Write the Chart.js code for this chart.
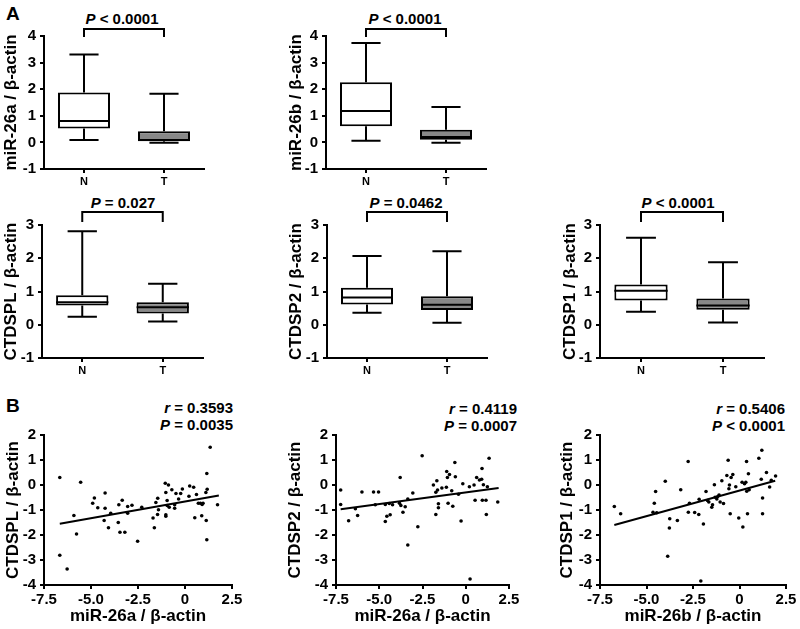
<!DOCTYPE html>
<html>
<head>
<meta charset="utf-8">
<script src="https://cdn.jsdelivr.net/npm/chart.js@4"></script>
<style>
  body { margin: 0; background: #fff; width: 800px; height: 629px; position: relative; overflow: hidden;
         font-family: "Liberation Sans", Arial, sans-serif; }
  canvas { position: absolute; }
  .lbl { position: absolute; font-weight: bold; color: #000; white-space: nowrap; line-height: 1; }
  .c { transform: translate(-50%, -50%); }
  .r { transform: translate(-100%, -50%); }
</style>
</head>
<body>
<div class="lbl" style="left:6px;top:4px;font-size:19px">A</div>
<div class="lbl" style="left:6px;top:396px;font-size:19px">B</div>

<div class="lbl c" style="left:122px;top:18px;font-size:15px"><i>P</i> &lt; 0.0001</div>
<div class="lbl c" style="left:405px;top:18px;font-size:15px"><i>P</i> &lt; 0.0001</div>
<div class="lbl c" style="left:123px;top:202px;font-size:15px"><i>P</i> = 0.027</div>
<div class="lbl c" style="left:406px;top:202px;font-size:15px"><i>P</i> = 0.0462</div>
<div class="lbl c" style="left:678px;top:202px;font-size:15px"><i>P</i> &lt; 0.0001</div>

<div class="lbl r" style="left:233px;top:407px;font-size:15px"><i>r</i> = 0.3593</div>
<div class="lbl r" style="left:233px;top:424px;font-size:15px"><i>P</i> = 0.0035</div>
<div class="lbl r" style="left:517px;top:408px;font-size:15px"><i>r</i> = 0.4119</div>
<div class="lbl r" style="left:517px;top:425px;font-size:15px"><i>P</i> = 0.0007</div>
<div class="lbl r" style="left:785px;top:408px;font-size:15px"><i>r</i> = 0.5406</div>
<div class="lbl r" style="left:785px;top:425px;font-size:15px"><i>P</i> &lt; 0.0001</div>

<canvas id="b1"></canvas>
<canvas id="b2"></canvas>
<canvas id="b3"></canvas>
<canvas id="b4"></canvas>
<canvas id="b5"></canvas>
<canvas id="s1"></canvas>
<canvas id="s2"></canvas>
<canvas id="s3"></canvas>

<script>
const groups = ['N', 'T'];

// box stats: [min, q1, median, q3, max]
const mir26aN = [0.09, 0.52, 0.80, 1.88, 3.30];
const mir26aT = [-0.01, 0.04, 0.09, 0.42, 1.83];
const mir26bN = [0.06, 0.61, 1.18, 2.26, 3.74];
const mir26bT = [-0.01, 0.10, 0.20, 0.48, 1.33];
const ctdsplN = [0.24, 0.58, 0.68, 0.89, 2.81];
const ctdsplT = [0.10, 0.34, 0.53, 0.68, 1.23];
const ctdsp2N = [0.36, 0.61, 0.82, 1.11, 2.07];
const ctdsp2T = [0.06, 0.44, 0.60, 0.86, 2.21];
const ctdsp1N = [0.39, 0.73, 1.02, 1.21, 2.62];
const ctdsp1T = [0.07, 0.45, 0.58, 0.79, 1.88];

// correlation panels
const splX = [-6.66,-5.55,-5.91,-5.77,-6.66,-6.27,-4.91,-4.82,-4.64,-4.25,-4.25,-4.30,-4.07,-3.95,-3.52,-3.34,-3.55,-3.46,-3.20,-3.05,-3.05,-2.82,-2.52,-2.30,-1.70,-1.63,-1.55,-1.45,-1.41,-1.46,-1.05,-1.02,-0.88,-1.02,-1.02,-0.95,-0.95,-0.84,-0.70,-0.55,-0.48,-0.55,-0.34,-0.14,-0.23,0.25,0.21,0.46,0.52,0.61,0.71,0.82,0.89,0.91,0.96,1.11,1.13,1.18,1.16,1.16,1.34,1.73];
const splY = [0.30,0.11,-1.22,-1.96,-2.81,-3.36,-0.73,-0.52,-0.91,-0.32,-0.93,-1.42,-1.71,-1.13,-0.79,-0.61,-1.50,-1.89,-1.89,-0.86,-1.13,-0.81,-2.25,-0.89,-1.32,-1.71,-0.70,-0.53,-0.99,-1.18,0.07,-0.30,0.00,-1.19,-1.25,-0.62,-0.82,-0.89,-0.19,-0.79,-0.34,-0.93,-0.56,-0.16,-0.34,-0.04,-0.45,-0.09,-1.31,-0.38,-0.73,-0.73,-1.23,-0.78,-0.73,-0.30,-1.42,-0.17,0.46,-2.19,1.51,-0.79];
const splFitX = [-6.66, 1.80];
const splFitY = [-1.55, -0.42];

const sp2X = [-7.23,-7.23,-6.77,-6.38,-6.25,-6.00,-5.33,-5.04,-5.23,-4.65,-4.65,-4.56,-4.37,-4.42,-4.23,-3.79,-3.83,-3.75,-3.63,-3.50,-3.35,-3.35,-3.06,-2.77,-2.52,-1.87,-1.73,-1.73,-1.67,-1.63,-1.58,-1.58,-1.38,-1.12,-1.10,-1.06,-1.02,-0.94,-0.81,-0.75,-0.63,-0.60,-0.42,-0.27,-0.17,0.21,0.25,0.48,0.54,0.63,0.79,0.92,0.94,0.96,1.02,1.17,1.19,1.25,1.35,1.85];
const sp2Y = [-0.20,-0.78,-1.43,-0.95,-1.22,-0.28,-0.28,-0.28,-0.79,-0.78,-1.46,-1.25,-1.19,-0.74,-0.79,0.30,-0.73,-0.82,-1.09,-0.87,-0.56,-2.40,-0.32,-1.67,1.17,0.00,-0.29,-1.18,0.17,-0.20,-0.75,-0.91,-0.12,-0.09,0.54,0.30,-0.73,0.42,-0.23,-0.85,0.90,0.33,-0.37,-1.44,0.05,-0.07,-3.76,0.00,-0.61,0.30,0.20,0.23,0.66,-0.61,0.01,-0.61,-1.18,-0.07,1.07,-0.68];
const sp2FitX = [-7.23, 1.90];
const sp2FitY = [-0.97, -0.12];

const sp1X = [-6.73,-6.39,-4.51,-4.58,-4.65,-4.45,-3.99,-3.75,-3.77,-3.86,-3.34,-3.16,-2.76,-2.69,-2.75,-2.41,-2.19,-2.08,-2.17,-1.94,-1.80,-1.72,-1.65,-1.49,-1.45,-1.35,-1.31,-1.22,-1.17,-1.10,-1.04,-0.95,-0.86,-0.68,-0.61,-0.57,-0.54,-0.45,-0.36,-0.50,-0.20,-0.04,0.14,0.18,0.27,0.34,0.39,0.43,0.38,0.48,0.52,1.04,1.20,1.17,1.24,1.24,1.45,1.62,1.71,1.94];
const sp1Y = [-0.86,-1.15,-0.26,-0.73,-1.09,-1.11,0.15,-1.35,-1.72,-2.85,-1.42,-0.19,0.94,-0.73,-1.09,-1.10,-1.18,-3.84,-0.57,-1.56,-0.26,-0.62,-0.68,-0.89,-0.79,0.01,-0.49,-0.56,-0.46,-0.40,-0.68,0.17,-0.74,0.38,0.99,-0.15,0.00,0.30,0.42,-1.15,-0.07,-1.32,0.11,-1.68,0.05,0.11,-0.25,-1.15,0.94,0.45,-0.19,1.07,1.39,0.23,-0.52,-1.15,0.50,-0.08,0.19,0.36];
const sp1FitX = [-6.73, 1.92];
const sp1FitY = [-1.60, 0.17];

Chart.defaults.font.family = '"Liberation Sans", Arial, sans-serif';
Chart.defaults.font.weight = 'bold';
Chart.defaults.color = '#000';

function place(id, area, yw, padT, padR, xh) {
  const c = document.getElementById(id);
  const w = area.r - area.l + yw + padR;
  const h = area.b - area.t + padT + xh;
  c.width = w;
  c.height = h;
  c.style.left = (area.l - yw) + 'px';
  c.style.top = (area.t - padT) + 'px';
  c.style.width = w + 'px';
  c.style.height = h + 'px';
  return c.getContext('2d');
}

// whiskers, medians and the bracket over the two boxes
const boxPlugin = {
  id: 'boxWhisker',
  afterDatasetsDraw(chart, args, opts) {
    const ctx = chart.ctx;
    const ys = chart.scales.y;
    const py = v => ys.getPixelForValue(v);
    ctx.save();
    ctx.strokeStyle = '#000';
    ctx.lineWidth = 2;
    chart.getDatasetMeta(0).data.forEach((bar, i) => {
      const s = opts.stats[i];
      const x = bar.x, hw = bar.width / 2, cw = bar.width * 0.28;
      ctx.beginPath();
      ctx.moveTo(x, py(s[3])); ctx.lineTo(x, py(s[4]));
      ctx.moveTo(x - cw, py(s[4])); ctx.lineTo(x + cw, py(s[4]));
      ctx.moveTo(x, py(s[1])); ctx.lineTo(x, py(s[0]));
      ctx.moveTo(x - cw, py(s[0])); ctx.lineTo(x + cw, py(s[0]));
      ctx.moveTo(x - hw, py(s[2])); ctx.lineTo(x + hw, py(s[2]));
      ctx.stroke();
    });
    const xs = chart.scales.x;
    const x1 = xs.getPixelForValue(0), x2 = xs.getPixelForValue(1);
    const top = chart.chartArea.top;
    ctx.beginPath();
    ctx.moveTo(x1, top + opts.legEnd);
    ctx.lineTo(x1, top - opts.bracket);
    ctx.lineTo(x2, top - opts.bracket);
    ctx.lineTo(x2, top + opts.legEnd);
    ctx.stroke();
    ctx.restore();
  }
};

function axisStyle() {
  return {
    grid: { drawOnChartArea: false, tickLength: 4, color: '#000', lineWidth: 2 },
    border: { color: '#000', width: 2 }
  };
}

function boxChart(id, area, yw, yMax, title, statsN, statsT, brk) {
  const padT = 16, padR = 6, xh = 22;
  const ctx = place(id, area, yw, padT, padR, xh);
  new Chart(ctx, {
    type: 'bar',
    data: {
      labels: groups,
      datasets: [{
        data: [[statsN[1], statsN[3]], [statsT[1], statsT[3]]],
        backgroundColor: ['#ffffff', '#888888'],
        borderColor: '#000',
        borderWidth: 2,
        borderSkipped: false,
        barPercentage: 0.65,
        categoryPercentage: 1
      }]
    },
    options: {
      responsive: false,
      animation: false,
      layout: { padding: { top: padT, right: padR, left: 0, bottom: 0 } },
      plugins: {
        legend: { display: false },
        tooltip: { enabled: false },
        boxWhisker: { stats: [statsN, statsT], bracket: brk[0], legEnd: brk[1] }
      },
      scales: {
        x: {
          ...axisStyle(),
          grid: { offset: false, drawOnChartArea: false, tickLength: 4, color: '#000', lineWidth: 2 },
          ticks: { font: { size: 11, weight: 'bold' }, padding: 2 },
          afterFit: s => { s.height = xh; }
        },
        y: {
          ...axisStyle(),
          min: -1, max: yMax,
          ticks: { stepSize: 1, font: { size: 15, weight: 'bold' }, padding: 4 },
          title: { display: true, text: title, font: { size: 17, weight: 'bold' }, padding: 0 },
          afterFit: s => { s.width = yw; }
        }
      }
    },
    plugins: [boxPlugin]
  });
}

function scatterChart(id, area, yw, title, xTitle, xs, ys, fitX, fitY) {
  const padT = 12, padR = 14, xh = 42;
  const ctx = place(id, area, yw, padT, padR, xh);
  new Chart(ctx, {
    type: 'scatter',
    data: {
      datasets: [{
        data: xs.map((x, i) => ({ x: x, y: ys[i] })),
        pointRadius: 1.8,
        backgroundColor: '#000',
        borderWidth: 0
      }, {
        type: 'line',
        data: fitX.map((x, i) => ({ x: x, y: fitY[i] })),
        borderColor: '#000',
        borderWidth: 2,
        pointRadius: 0,
        fill: false
      }]
    },
    options: {
      responsive: false,
      animation: false,
      layout: { padding: { top: padT, right: padR, left: 0, bottom: 0 } },
      plugins: { legend: { display: false }, tooltip: { enabled: false } },
      scales: {
        x: {
          ...axisStyle(),
          type: 'linear', min: -7.5, max: 2.5,
          ticks: { stepSize: 2.5, font: { size: 15, weight: 'bold' }, padding: 2,
                   callback: v => v === 0 ? '0' : v.toFixed(1) },
          title: { display: true, text: xTitle, font: { size: 17, weight: 'bold' }, padding: 0 },
          afterFit: s => { s.height = xh; }
        },
        y: {
          ...axisStyle(),
          min: -4, max: 2,
          ticks: { stepSize: 1, font: { size: 15, weight: 'bold' }, padding: 4 },
          title: { display: true, text: title, font: { size: 17, weight: 'bold' }, padding: 0 },
          afterFit: s => { s.width = yw; }
        }
      }
    }
  });
}

boxChart('b1', { l: 44, t: 36, r: 204, b: 169 }, 43, 4, 'miR-26a / β-actin', mir26aN, mir26aT, [7, 1]);
boxChart('b2', { l: 326, t: 36, r: 486, b: 169 }, 40, 4, 'miR-26b / β-actin', mir26bN, mir26bT, [7, 1]);
boxChart('b3', { l: 42, t: 225, r: 203, b: 358 }, 41, 3, 'CTDSPL / β-actin', ctdsplN, ctdsplT, [13, -3]);
boxChart('b4', { l: 327, t: 225, r: 487, b: 358 }, 41, 3, 'CTDSP2 / β-actin', ctdsp2N, ctdsp2T, [13, -3]);
boxChart('b5', { l: 600, t: 225, r: 764, b: 358 }, 40, 3, 'CTDSP1 / β-actin', ctdsp1N, ctdsp1T, [13, -3]);

scatterChart('s1', { l: 44, t: 434, r: 232, b: 585 }, 41, 'CTDSPL / β-actin', 'miR-26a / β-actin', splX, splY, splFitX, splFitY);
scatterChart('s2', { l: 336, t: 434, r: 509, b: 585 }, 51, 'CTDSP2 / β-actin', 'miR-26a / β-actin', sp2X, sp2Y, sp2FitX, sp2FitY);
scatterChart('s3', { l: 600, t: 434, r: 786, b: 585 }, 43, 'CTDSP1 / β-actin', 'miR-26b / β-actin', sp1X, sp1Y, sp1FitX, sp1FitY);
</script>
</body>
</html>
